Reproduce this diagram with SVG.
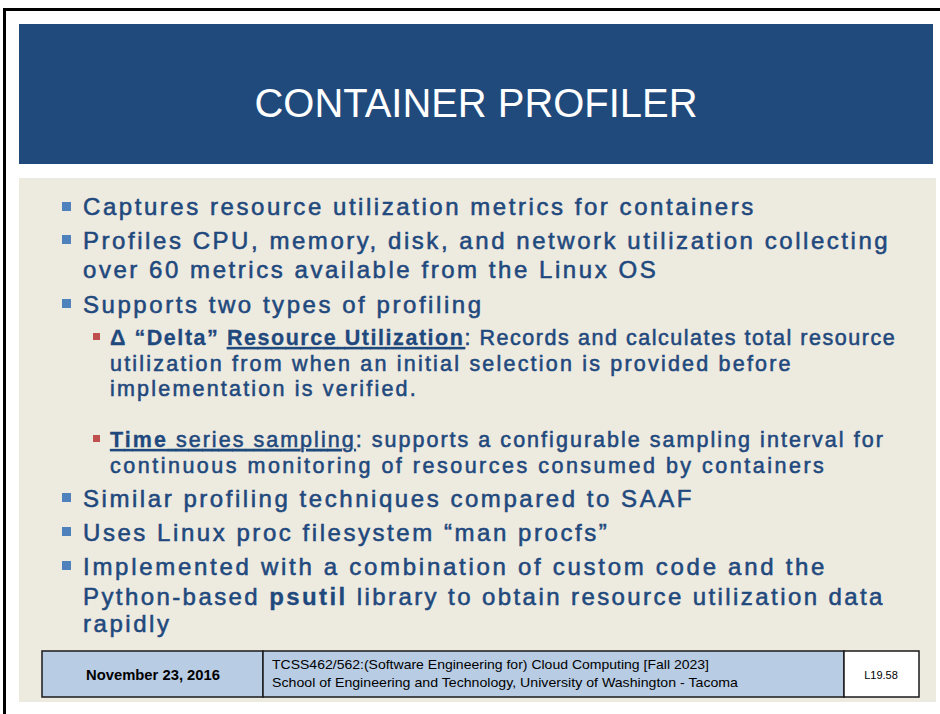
<svg xmlns="http://www.w3.org/2000/svg" width="940" height="714" viewBox="0 0 940 714">
  <style>
    .body { font-family: "Liberation Sans", Arial, sans-serif; fill: #1F497D; stroke: #1F497D; stroke-width: 0.55; }
    .l1 { font-size: 24px; letter-spacing: 2.55px; }
    .l2 { font-size: 21.5px; letter-spacing: 2.2px; }
    .b { font-weight: bold; stroke-width: 0.3; }
    .u { text-decoration: underline; }
    .foot { font-family: "Liberation Sans", Arial, sans-serif; fill: #000; }
    .cell { stroke: #1a1a1a; stroke-width: 1.5; }
  </style>
  <defs>
    <rect id="sq1" width="9" height="9" fill="#4F81BD"/>
    <rect id="sq2" width="7" height="7" fill="#C0504D"/>
  </defs>

  <!-- page and frame -->
  <rect x="0" y="0" width="940" height="714" fill="#FFFFFF"/>
  <rect x="3" y="8" width="937" height="3" fill="#000"/>
  <rect x="3" y="8" width="3" height="706" fill="#000"/>

  <!-- title band -->
  <g id="title">
    <rect x="19" y="24" width="914" height="140" fill="#214A7C"/>
    <text x="476" y="117" text-anchor="middle" font-family="'Liberation Sans', Arial, sans-serif" font-size="40" fill="#FFFFFF" textLength="443" lengthAdjust="spacingAndGlyphs">CONTAINER PROFILER</text>
  </g>

  <!-- content panel -->
  <rect x="19" y="178" width="917" height="524" fill="#EDEAE0"/>

  <g id="bullets" class="body">
    <use href="#sq1" x="62" y="202" stroke="none"/>
    <text class="l1" x="83" y="215">Captures resource utilization metrics for containers</text>

    <use href="#sq1" x="62" y="235" stroke="none"/>
    <text class="l1" x="83" y="249">Profiles CPU, memory, disk, and network utilization collecting</text>
    <text class="l1" x="83" y="278">over 60 metrics available from the Linux OS</text>

    <use href="#sq1" x="62" y="299" stroke="none"/>
    <text class="l1" x="83" y="313">Supports two types of profiling</text>

    <use href="#sq2" x="93" y="333" stroke="none"/>
    <text class="l2" x="110" y="345" textLength="787" lengthAdjust="spacing"><tspan class="b">Δ “Delta” </tspan><tspan class="b u">Resource Utilization</tspan>: Records and calculates total resource</text>
    <text class="l2" x="110" y="371">utilization from when an initial selection is provided before</text>
    <text class="l2" x="110" y="396">implementation is verified.</text>

    <use href="#sq2" x="93" y="435" stroke="none"/>
    <text class="l2" x="110" y="447" textLength="775" lengthAdjust="spacing"><tspan class="b u">Time</tspan><tspan class="u"> series sampling</tspan>: supports a configurable sampling interval for</text>
    <text class="l2" x="110" y="473" textLength="716" lengthAdjust="spacing">continuous monitoring of resources consumed by containers</text>

    <use href="#sq1" x="62" y="493" stroke="none"/>
    <text class="l1" x="83" y="507">Similar profiling techniques compared to SAAF</text>

    <use href="#sq1" x="62" y="527" stroke="none"/>
    <text class="l1" x="83" y="541">Uses Linux proc filesystem “man procfs”</text>

    <use href="#sq1" x="62" y="561" stroke="none"/>
    <text class="l1" x="83" y="575" textLength="744" lengthAdjust="spacing">Implemented with a combination of custom code and the</text>
    <text class="l1" x="83" y="605" textLength="802" lengthAdjust="spacing">Python-based <tspan class="b">psutil</tspan> library to obtain resource utilization data</text>
    <text class="l1" x="83" y="632">rapidly</text>
  </g>

  <!-- footer bar -->
  <g id="footer">
    <rect class="cell" x="42" y="651" width="221" height="46" fill="#B8CCE4"/>
    <rect class="cell" x="263" y="651" width="581" height="46" fill="#B8CCE4"/>
    <rect class="cell" x="844" y="651" width="75" height="46" fill="#FFFFFF"/>
    <text class="foot" x="153" y="680" text-anchor="middle" font-size="14.5" font-weight="bold" textLength="134" lengthAdjust="spacingAndGlyphs">November 23, 2016</text>
    <text class="foot" x="272" y="669" font-size="13.5" textLength="437" lengthAdjust="spacingAndGlyphs">TCSS462/562:(Software Engineering for) Cloud Computing [Fall 2023]</text>
    <text class="foot" x="272" y="687" font-size="13.5" textLength="466" lengthAdjust="spacingAndGlyphs">School of Engineering and Technology, University of Washington - Tacoma</text>
    <text class="foot" x="881" y="679" text-anchor="middle" font-size="11">L19.58</text>
  </g>
</svg>
